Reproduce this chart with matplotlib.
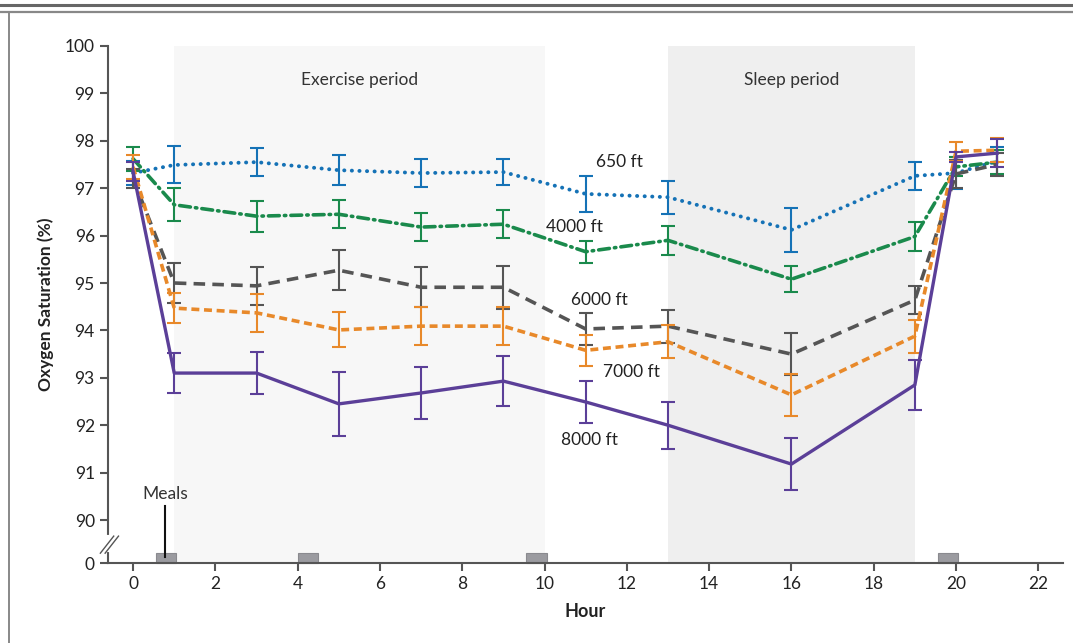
import matplotlib
matplotlib.use("Agg")
import matplotlib.pyplot as plt
from matplotlib.lines import Line2D

plt.rcParams['font.family'] = ['Lato', 'DejaVu Sans']

hours = [0, 1, 3, 5, 7, 9, 11, 13, 16, 19, 20, 21]

sat_650 = [97.32, 97.49, 97.55, 97.38, 97.32, 97.34, 96.88, 96.81, 96.12, 97.26, 97.32, 97.57]
err_650 = [0.25, 0.39, 0.29, 0.32, 0.30, 0.28, 0.38, 0.35, 0.47, 0.30, 0.33, 0.30]

sat_4000 = [97.62, 96.65, 96.41, 96.45, 96.18, 96.24, 95.66, 95.90, 95.08, 95.98, 97.45, 97.55]
err_4000 = [0.25, 0.35, 0.33, 0.30, 0.30, 0.30, 0.23, 0.30, 0.28, 0.30, 0.20, 0.25]

sat_6000 = [97.20, 95.00, 94.94, 95.27, 94.91, 94.91, 94.03, 94.09, 93.50, 94.64, 97.30, 97.50]
err_6000 = [0.20, 0.43, 0.40, 0.42, 0.42, 0.45, 0.33, 0.35, 0.45, 0.30, 0.30, 0.25]

sat_7000 = [97.45, 94.47, 94.37, 94.01, 94.09, 94.09, 93.58, 93.76, 92.64, 93.88, 97.78, 97.80]
err_7000 = [0.25, 0.32, 0.40, 0.37, 0.40, 0.40, 0.33, 0.35, 0.45, 0.35, 0.20, 0.25]

sat_8000 = [97.35, 93.10, 93.10, 92.45, 92.68, 92.93, 92.49, 92.00, 91.18, 92.85, 97.66, 97.74]
err_8000 = [0.20, 0.42, 0.45, 0.67, 0.55, 0.52, 0.45, 0.50, 0.55, 0.52, 0.10, 0.30]

series_labels = ['650 ft', '4000 ft', '6000 ft', '7000 ft', '8000 ft']
meal_times = [0.55, 4.0, 9.55, 19.55]
meal_duration = 0.5

y_ticks = [90, 91, 92, 93, 94, 95, 96, 97, 98, 99, 100]
x_ticks = [0, 2, 4, 6, 8, 10, 12, 14, 16, 18, 20, 22]

Y0 = 89.093  # position of the "0" break baseline

fig = plt.figure(figsize=(10.73, 6.43), dpi=100)
ax = fig.add_axes([108/1073, 1-563/643, (1063-108)/1073, (563-46)/643])
ax.set_xlim(-0.61, 22.6)
ax.set_ylim(Y0, 100)

# periods
ax.axvspan(1, 10, color='#f7f7f7', zorder=0, lw=0)
ax.axvspan(13, 19, color='#efefef', zorder=0, lw=0)
ax.text(5.5, 99.28, 'Exercise period', ha='center', va='center', fontsize=12.5, color='#333333')
ax.text(16, 99.28, 'Sleep period', ha='center', va='center', fontsize=12.5, color='#333333')

styles = [
    ('#1572b6', (0, (0.05, 1.9)), 'round', 2.8),
    ('#1a8a4c', (0, (3.0, 1.4, 0.4, 1.4)), 'round', 2.6),
    ('#555555', (0, (3.2, 2.0)), 'butt', 2.6),
    ('#e8892a', (0, (2.2, 1.3)), 'butt', 2.6),
    ('#5b3f98', '-', 'butt', 2.4),
]
sats = [sat_650, sat_4000, sat_6000, sat_7000, sat_8000]
errs = [err_650, err_4000, err_6000, err_7000, err_8000]
for i, (s, e, (c, ls, cap, lw)) in enumerate(zip(sats, errs, styles)):
    ax.errorbar(hours, s, yerr=e, fmt='none', ecolor=c, elinewidth=1.5,
                capsize=5, capthick=1.5, zorder=3 + i)
    ln, = ax.plot(hours, s, color=c, lw=lw, zorder=3 + i)
    ln.set_linestyle(ls)
    ln.set_dash_capstyle(cap)

label_pos = [(11.83, 97.55), (10.73, 96.18), (11.34, 94.64), (12.1, 93.12), (11.1, 91.69)]
for lab, (lx, ly) in zip(series_labels, label_pos):
    ax.text(lx, ly, lab, ha='center', va='center', fontsize=12.5, color='#222222', zorder=10)

# meals
ax.bar(meal_times, 0.21, width=meal_duration, bottom=Y0, align='edge',
       color='#9b9ba0', edgecolor='#8a8a8f', lw=0.8, zorder=2, clip_on=False)
ax.text(meal_times[0] + 0.23, 90.55, 'Meals', ha='center', va='center', fontsize=12.5, color='#333333')
ax.plot([meal_times[0] + 0.23] * 2, [90.3, 89.22], color='#111111', lw=1.5, zorder=11)

# axes styling
for side in ['top', 'right']:
    ax.spines[side].set_visible(False)
for side in ['left', 'bottom']:
    ax.spines[side].set_color('#555555')
    ax.spines[side].set_linewidth(1.5)
ax.set_yticks([Y0] + y_ticks)
ax.set_yticklabels(['0'] + [str(t) for t in y_ticks])
ax.set_xticks(x_ticks)
ax.tick_params(axis='both', colors='#555555', labelcolor='#222222', labelsize=12.5,
               width=1.5, length=6)
ax.set_xlabel('Hour', fontsize=13, fontweight='bold', color='#222222', labelpad=8)
ax.set_ylabel('Oxygen Saturation (%)', fontsize=12.5, fontweight='bold', color='#222222', labelpad=8)

# axis break marks
ax.add_line(Line2D([0, 0], [0.025, 0.05], transform=ax.transAxes, color='white',
                   lw=3, clip_on=False, zorder=19))
for dx in (0.0, 0.005):
    ax.add_line(Line2D([-0.008 + dx, 0.006 + dx], [0.019, 0.052], transform=ax.transAxes,
                       color='#555555', lw=1.0, clip_on=False, zorder=20))

# frame lines
fig.add_artist(Line2D([0, 1], [1 - 4.5/643] * 2, color='#666666', lw=2.2))
fig.add_artist(Line2D([0, 1], [1 - 11.5/643] * 2, color='#888888', lw=1.6))
fig.add_artist(Line2D([9/1073] * 2, [0, 1 - 11.5/643], color='#888888', lw=1.4))

fig.savefig('out.png', dpi=100)
